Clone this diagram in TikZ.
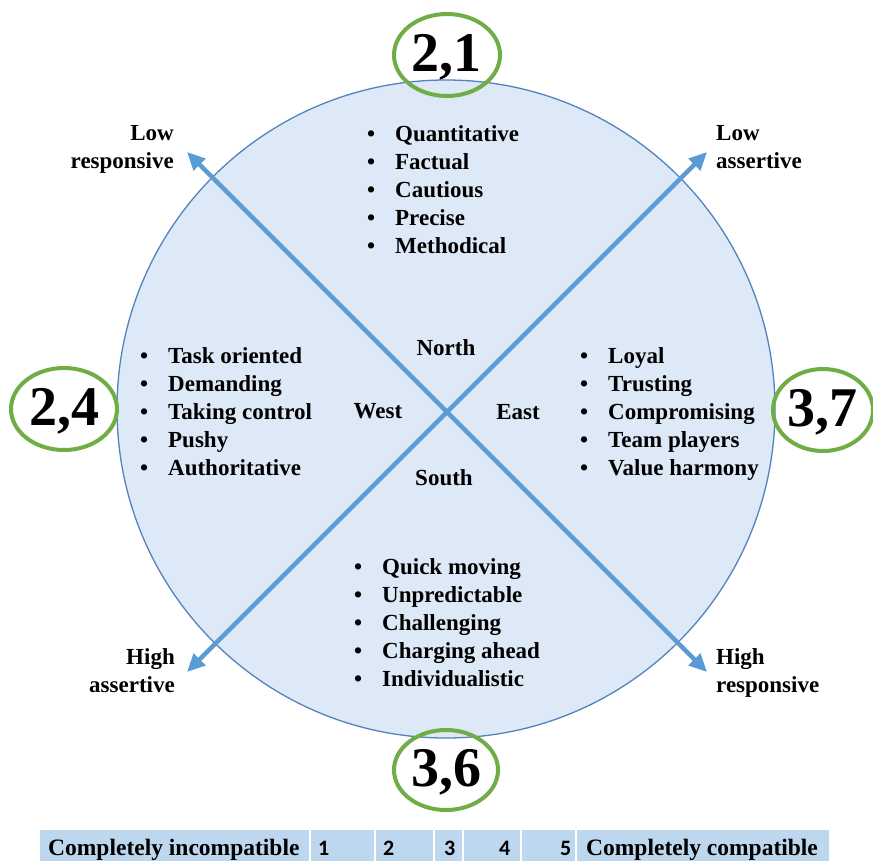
\documentclass[tikz,border=0pt]{standalone}
\usepackage{fontspec}
\setmainfont{Liberation Serif}
\newfontfamily\numfont{Carlito}
\usetikzlibrary{arrows.meta,shapes.geometric}
\definecolor{arrowblue}{RGB}{91,155,213}
\definecolor{circfill}{RGB}{221,233,246}
\definecolor{circline}{RGB}{84,130,190}
\definecolor{ringgreen}{RGB}{112,173,71}
\definecolor{tabfill}{RGB}{189,215,238}
\tikzset{
  axis/.style={line width=4.5pt, draw=arrowblue, {Triangle[length=18pt,width=16pt]}-{Triangle[length=18pt,width=16pt]}},
  ring/.style={draw=ringgreen, line width=4pt, ellipse, inner sep=0pt},
  bignum/.style={font=\fontsize{56}{60}\selectfont\bfseries},
  lbl/.style={font=\fontsize{23}{28}\selectfont\bfseries, inner sep=0pt},
  listbox/.style={font=\fontsize{23}{28}\selectfont\bfseries, inner sep=0pt, anchor=base west},
  cell/.style={fill=tabfill, draw=white, line width=1.5pt},
  tabtxt/.style={font=\fontsize{23.5}{28}\selectfont\bfseries, inner sep=0pt, anchor=base west},
  tabnum/.style={font=\fontsize{22}{28}\selectfont\bfseries\numfont, inner sep=0pt, anchor=base west}
}
\newcommand{\blist}[1]{\begin{tabular}[t]{@{}p{28pt}@{}l@{}}#1\end{tabular}}
\begin{document}
\begin{tikzpicture}[x=1pt,y=-1pt]
\useasboundingbox (0,0) rectangle (873,860);
\fill[white] (0,0) rectangle (873,860);
% circle
\node[circle, minimum size=658pt, inner sep=0pt, fill=circfill, draw=circline, line width=1.3pt] (circ) at (446,409) {};
% axes
\coordinate (nw) at (187,152);
\coordinate (ne) at (707,152);
\coordinate (sw) at (187,672);
\coordinate (se) at (707,672);
\draw[axis] (nw) -- (se);
\draw[axis] (sw) -- (ne);
% rings
\node[ring, minimum width=106pt, minimum height=82pt] (rN) at (447,55) {};
\node[ring, minimum width=106pt, minimum height=82pt] (rW) at (64,409) {};
\node[ring, minimum width=100pt, minimum height=82pt] (rE) at (823,410) {};
\node[ring, minimum width=104pt, minimum height=80pt] (rS) at (446,770) {};
\node[bignum] (tN) at (446,57) {2,1};
\node[bignum] (tW) at (64,411) {2,4};
\node[bignum] (tE) at (822,412) {3,7};
\node[bignum] (tS) at (446,772) {3,6};
% compass words
\node[lbl] (north) at (446,348) {North};
\node[lbl] (west) at (378,411) {West};
\node[lbl] (east) at (518,412) {East};
\node[lbl] (south) at (444,478) {South};
% corner labels
\node[lbl, anchor=base east, align=right] (lr) at (174,168) {Low\\responsive};
\node[lbl, anchor=base west, align=left] (la) at (716,168) {Low\\assertive};
\node[lbl, anchor=base east, align=right] (ha) at (175,692) {High\\assertive};
\node[lbl, anchor=base west, align=left] (hr) at (716,692) {High\\responsive};
% lists
\node[listbox] (listN) at (367,141) {\blist{\textbullet & Quantitative\\ \textbullet & Factual\\ \textbullet & Cautious\\ \textbullet & Precise\\ \textbullet & Methodical}};
\node[listbox] (listW) at (140,363) {\blist{\textbullet & Task oriented\\ \textbullet & Demanding\\ \textbullet & Taking control\\ \textbullet & Pushy\\ \textbullet & Authoritative}};
\node[listbox] (listE) at (580,363) {\blist{\textbullet & Loyal\\ \textbullet & Trusting\\ \textbullet & Compromising\\ \textbullet & Team players\\ \textbullet & Value harmony}};
\node[listbox] (listS) at (354,574) {\blist{\textbullet & Quick moving\\ \textbullet & Unpredictable\\ \textbullet & Challenging\\ \textbullet & Charging ahead\\ \textbullet & Individualistic}};
% table
\draw[cell] (39,829) rectangle (310,866);
\draw[cell] (310,829) rectangle (375,866);
\draw[cell] (375,829) rectangle (434,866);
\draw[cell] (434,829) rectangle (463,866);
\draw[cell] (463,829) rectangle (521,866);
\draw[cell] (521,829) rectangle (576,866);
\draw[cell] (576,829) rectangle (830,866);
\node[tabtxt] (ci) at (48,855) {Completely incompatible};
\node[tabnum] (n1) at (318,855) {1};
\node[tabnum] (n2) at (383,855) {2};
\node[tabnum] (n3) at (444,855) {3};
\node[tabnum] (n4) at (499,855) {4};
\node[tabnum] (n5) at (560,855) {5};
\node[tabtxt] (cc) at (586,855) {Completely compatible};
\end{tikzpicture}
\end{document}
